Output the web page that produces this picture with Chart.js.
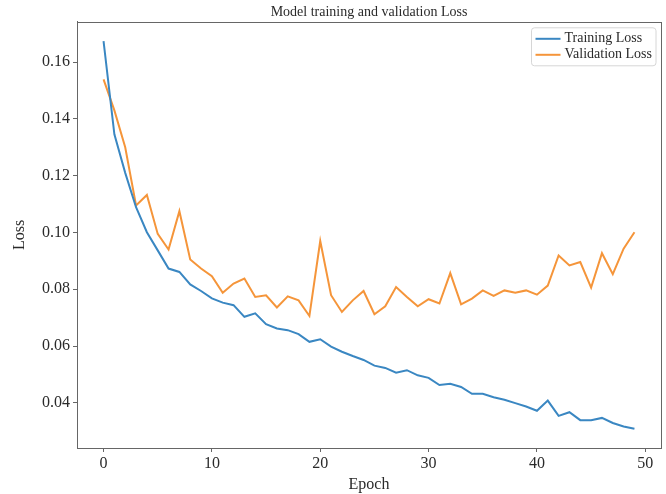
<!DOCTYPE html>
<html>
<head>
<meta charset="utf-8">
<script src="https://cdn.jsdelivr.net/npm/chart.js@4.4.0/dist/chart.umd.min.js"></script>
<style>
  body { margin: 0; background: #fff; }
  #wrap { width: 666px; height: 494px; }
</style>
</head>
<body>
<div id="wrap"><canvas id="lossChart" width="666" height="494"></canvas></div>
<script>
// Loss per epoch
const trainLoss = [
    0.1674, 0.1346, 0.1210, 0.1089, 0.1001, 0.0937, 0.0873, 0.0861, 0.0817, 0.0794,
    0.0768, 0.0753, 0.0744, 0.0703, 0.0715, 0.0677, 0.0662, 0.0656, 0.0642, 0.0615,
    0.0624, 0.0598, 0.0580, 0.0565, 0.0551, 0.0531, 0.0523, 0.0506, 0.0515, 0.0497,
    0.0488, 0.0463, 0.0467, 0.0456, 0.0432, 0.0432, 0.0420, 0.0411, 0.0399, 0.0387,
    0.0372, 0.0408, 0.0354, 0.0367, 0.0339, 0.0339, 0.0347, 0.0329, 0.0317, 0.0309
];
const valLoss = [
    0.1539, 0.1430, 0.1300, 0.1095, 0.1132, 0.0995, 0.0940, 0.1075, 0.0905, 0.0873,
    0.0846, 0.0788, 0.0820, 0.0838, 0.0773, 0.0779, 0.0736, 0.0775, 0.0761, 0.0706,
    0.0970, 0.0779, 0.0720, 0.0761, 0.0794, 0.0712, 0.0740, 0.0808, 0.0773, 0.0740,
    0.0765, 0.0750, 0.0857, 0.0747, 0.0767, 0.0796, 0.0777, 0.0796, 0.0788, 0.0796,
    0.0781, 0.0813, 0.0919, 0.0884, 0.0896, 0.0806, 0.0927, 0.0853, 0.0943, 0.1001
];
const epochs = trainLoss.map((_, i) => i);

const xTicks = [0, 10, 20, 30, 40, 50];
const yTicks = [0.04, 0.06, 0.08, 0.10, 0.12, 0.14, 0.16];
const seriesNames = ['Training Loss', 'Validation Loss'];
const seriesColors = ['#3a87c2', '#f5953a'];

const SERIF = '"Liberation Serif", "DejaVu Serif", serif';
const AXIS_COLOR = '#666';
const TEXT_COLOR = '#2a2a2a';

// Box round the axes + legend drawn inside the plot, like matplotlib
const framePlugin = {
    id: 'frame',
    afterDraw(chart) {
        const { ctx, chartArea: a } = chart;
        ctx.save();
        ctx.strokeStyle = AXIS_COLOR;
        ctx.lineWidth = 1;
        ctx.strokeRect(Math.round(a.left) + 0.5, Math.round(a.top) + 0.5,
            Math.round(a.right - a.left), Math.round(a.bottom - a.top));

        // legend
        ctx.font = '14px ' + SERIF;
        const textW = Math.max(...seriesNames.map(n => ctx.measureText(n).width));
        const lineLen = 25, gap = 4, padX = 4, rowH = 16;
        const boxW = padX + lineLen + gap + textW + padX;
        const boxH = rowH * seriesNames.length + 6;
        const bx = a.right - 5 - boxW;
        const by = a.top + 6;
        ctx.beginPath();
        ctx.roundRect(bx, by, boxW, boxH, 3);
        ctx.fillStyle = 'rgba(255,255,255,0.8)';
        ctx.fill();
        ctx.strokeStyle = '#d6d6d6';
        ctx.stroke();
        ctx.textBaseline = 'middle';
        seriesNames.forEach((name, i) => {
            const y = by + 3 + rowH * i + rowH / 2;
            ctx.strokeStyle = seriesColors[i];
            ctx.lineWidth = 2;
            ctx.beginPath();
            ctx.moveTo(bx + padX, y);
            ctx.lineTo(bx + padX + lineLen, y);
            ctx.stroke();
            ctx.fillStyle = TEXT_COLOR;
            ctx.fillText(name, bx + padX + lineLen + gap, y);
        });
        ctx.restore();
    }
};

function makeDataset(values, label, color) {
    return {
        label: label,
        data: epochs.map((e, i) => ({ x: e, y: values[i] })),
        borderColor: color,
        backgroundColor: color,
        borderWidth: 2,
        pointRadius: 0,
        tension: 0,
        fill: false
    };
}

const ctx = document.getElementById('lossChart').getContext('2d');
new Chart(ctx, {
    type: 'line',
    data: {
        datasets: [
            makeDataset(trainLoss, seriesNames[0], seriesColors[0]),
            makeDataset(valLoss, seriesNames[1], seriesColors[1])
        ]
    },
    options: {
        responsive: false,
        animation: false,
        layout: { padding: { left: 0, right: 5, top: 0, bottom: 0 } },
        plugins: {
            legend: { display: false },
            tooltip: { enabled: false },
            title: {
                display: true,
                text: 'Model training and validation Loss',
                fullSize: false,
                color: TEXT_COLOR,
                font: { family: SERIF, size: 14, weight: 'normal' },
                padding: { top: 4, bottom: 1 }
            }
        },
        scales: {
            x: {
                type: 'linear',
                min: -2.45,
                max: 51.45,
                afterBuildTicks: axis => { axis.ticks = xTicks.map(v => ({ value: v })); },
                afterFit: axis => { axis.height = 46; },
                grid: { drawOnChartArea: false, drawTicks: true, tickLength: 4, color: AXIS_COLOR },
                border: { display: true, color: AXIS_COLOR },
                ticks: {
                    color: TEXT_COLOR, padding: 2, maxRotation: 0,
                    font: { family: SERIF, size: 16 },
                    callback: v => String(v)
                },
                title: {
                    display: true, text: 'Epoch', color: TEXT_COLOR,
                    font: { family: SERIF, size: 16 },
                    padding: { top: 0, bottom: 0 }
                }
            },
            y: {
                type: 'linear',
                min: 0.0241,
                max: 0.1742,
                afterBuildTicks: axis => { axis.ticks = yTicks.map(v => ({ value: v })); },
                afterFit: axis => { axis.width = 77; },
                grid: { drawOnChartArea: false, drawTicks: true, tickLength: 4, color: AXIS_COLOR },
                border: { display: true, color: AXIS_COLOR },
                ticks: {
                    color: TEXT_COLOR, padding: 3,
                    font: { family: SERIF, size: 16 },
                    callback: v => v.toFixed(2)
                },
                title: {
                    display: true, text: 'Loss', color: TEXT_COLOR,
                    font: { family: SERIF, size: 16 },
                    padding: { top: 10, bottom: 0 }
                }
            }
        }
    },
    plugins: [framePlugin]
});
</script>
</body>
</html>
